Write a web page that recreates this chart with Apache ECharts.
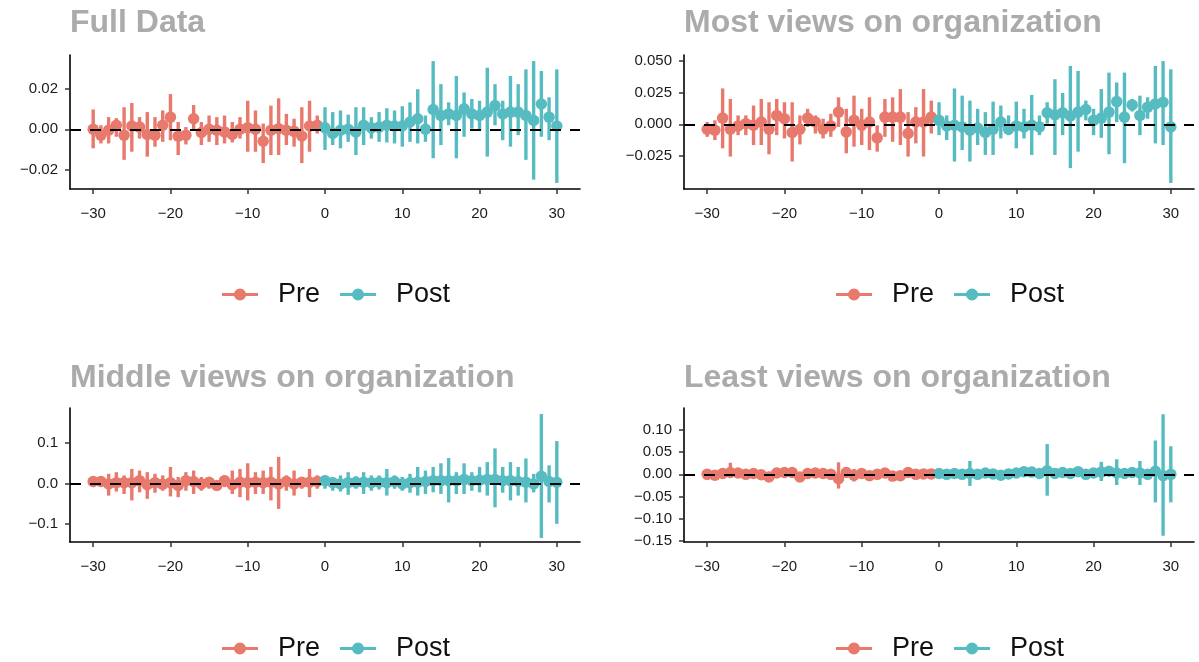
<!DOCTYPE html>
<html>
<head>
<meta charset="utf-8">
<script src="https://cdn.jsdelivr.net/npm/echarts@6/dist/echarts.min.js"></script>
<style>
  html, body { margin: 0; padding: 0; background: #fff; }
  #chart { width: 1199px; height: 662px; }
</style>
</head>
<body>
<div id="chart"></div>
<script>
// Event-study style panels: point estimates with CI bars, pre vs post.
const preX = [-30,-29,-28,-27,-26,-25,-24,-23,-22,-21,-20,-19,-18,-17,-16,-15,-14,-13,-12,-11,-10,-9,-8,-7,-6,-5,-4,-3,-2,-1]
const postX = [0,1,2,3,4,5,6,7,8,9,10,11,12,13,14,15,16,17,18,19,20,21,22,23,24,25,26,27,28,29,30]
const xTicks = [-30, -20, -10, 0, 10, 20, 30]

// Panel 1: Full Data
const fullPreEst = [0,-0.0029,-0.0005,0.002,-0.0029,0.0016,0.0011,-0.0026,-0.0029,0.002,0.006,-0.0034,-0.0029,0.0052,-0.0016,0,-0.0005,-0.0013,-0.0026,0,0.0007,0,-0.0059,-0.0005,0.0003,-0.0005,-0.001,-0.0033,0.0016,0.002]
const fullPreHi = [0.0098,0.002,0.006,0.0055,0.0109,0.013,0.006,0.0085,0.006,0.0093,0.0174,0.0036,0.0011,0.012,0.0036,0.0068,0.006,0.0068,0.0036,0.006,0.0141,0.0093,0.0028,0.0117,0.0153,0.0076,0.0052,0.0109,0.0141,0.0068]
const fullPreLo = [-0.0094,-0.007,-0.007,-0.0037,-0.0151,-0.0111,-0.0046,-0.0135,-0.0086,-0.0062,-0.0054,-0.0127,-0.0075,-0.0005,-0.0078,-0.0062,-0.0078,-0.007,-0.0065,-0.0046,-0.0111,-0.0111,-0.0167,-0.0127,-0.0127,-0.0078,-0.0086,-0.0167,-0.0111,-0.0021]
const fullPostEst = [0.0007,-0.0021,-0.0005,0,-0.0013,0.002,0.0007,0.0011,0.002,0.0016,0.0016,0.0036,0.0052,0,0.0098,0.0068,0.0076,0.0068,0.0101,0.0076,0.0068,0.0085,0.0117,0.0076,0.0085,0.0085,0.0068,0.0044,0.0125,0.006,0.0016]
const fullPostHi = [0.0109,0.0085,0.0093,0.0072,0.0109,0.0109,0.006,0.0085,0.0104,0.0093,0.0114,0.0133,0.0198,0.0068,0.0337,0.0223,0.0133,0.0263,0.0182,0.015,0.0141,0.0304,0.0223,0.0141,0.0263,0.0223,0.0296,0.0337,0.0288,0.0158,0.0296]
const fullPostLo = [-0.0102,-0.0078,-0.0094,-0.0062,-0.0127,-0.0078,-0.0046,-0.0062,-0.0065,-0.007,-0.0086,-0.0062,-0.007,-0.0062,-0.0143,-0.0078,0.002,-0.0143,-0.0037,0.0003,-0.0005,-0.0135,0.002,-0.0054,-0.0086,-0.0029,-0.0151,-0.0249,-0.0037,-0.0054,-0.0265]

// Panel 2: Most views on organization
const mostPreEst = [-0.0039,-0.0047,0.0049,-0.0039,-0.0013,0.0005,-0.0008,0.0018,-0.0039,0.007,0.0044,-0.0065,-0.0039,0.0049,0.0018,-0.0039,-0.0013,0.0096,-0.006,0.0031,-0.0008,0.0018,-0.0107,0.0057,0.0057,0.0057,-0.0073,0.0018,0.0018,0.0057]
const mostPreHi = [0.0018,0.0031,0.0283,0.02,0.007,0.007,0.0148,0.02,0.0174,0.02,0.0174,0.0174,0.007,0.0122,0.007,0.0044,0.0083,0.0213,0.0122,0.0226,0.0122,0.0213,-0.0008,0.02,0.0213,0.0278,0.0096,0.0135,0.0278,0.0187]
const mostPreLo = [-0.0099,-0.0125,-0.019,-0.0255,-0.0086,-0.0086,-0.0164,-0.0164,-0.0237,-0.0086,-0.0112,-0.0294,-0.0159,-0.0021,-0.0073,-0.0112,-0.0099,-0.0021,-0.0229,-0.0177,-0.0164,-0.0203,-0.0216,-0.0099,-0.0138,-0.0164,-0.0255,-0.0151,-0.0255,-0.0073]
const mostPostEst = [0.0031,-0.0013,-0.0008,-0.0021,-0.0047,-0.0029,-0.0065,-0.0039,0.0018,-0.0039,-0.0013,-0.0021,-0.0008,-0.0021,0.0091,0.0075,0.0091,0.0065,0.0096,0.0117,0.0031,0.0049,0.0096,0.0179,0.0057,0.0153,0.007,0.0135,0.0161,0.0174,-0.0021]
const mostPostHi = [0.0174,0.007,0.0283,0.0226,0.0187,0.0122,0.0096,0.0179,0.0148,0.007,0.0179,0.0122,0.0231,0.007,0.0174,0.0356,0.0247,0.046,0.0421,0.0187,0.0122,0.0278,0.0408,0.033,0.0408,0.02,0.0226,0.0213,0.046,0.0499,0.0434]
const mostPostLo = [-0.0086,-0.0125,-0.0294,-0.0203,-0.0294,-0.0164,-0.0242,-0.0242,-0.0112,-0.0086,-0.019,-0.0112,-0.0242,-0.0086,0.0005,-0.0242,-0.0086,-0.0346,-0.0216,0.0031,-0.0086,-0.0107,-0.0237,0.0018,-0.0307,0.0101,-0.0086,0.0044,-0.0151,-0.0164,-0.0463]

// Panel 3: Middle views on organization
const midPreEst = [0.005,0.005,-0.001,0.002,0.002,0.002,0.007,-0.003,0.002,-0.002,0.002,-0.005,0.007,0.005,-0.001,0.003,-0.005,0.007,-0.003,0.003,0.002,0.003,0.002,0.003,-0.001,0.005,-0.001,0.003,0.003,0.005]
const midPreHi = [0.016,0.013,0.024,0.028,0.02,0.036,0.032,0.028,0.024,0.02,0.041,0.016,0.028,0.032,0.016,0.016,0.007,0.02,0.032,0.036,0.05,0.028,0.032,0.041,0.066,0.02,0.032,0.016,0.036,0.02]
const midPreLo = [-0.009,-0.005,-0.03,-0.02,-0.026,-0.042,-0.022,-0.038,-0.023,-0.018,-0.032,-0.034,-0.018,-0.026,-0.018,-0.013,-0.018,-0.009,-0.026,-0.034,-0.042,-0.026,-0.026,-0.042,-0.063,-0.018,-0.03,-0.013,-0.034,-0.013]
const midPostEst = [0.007,0.002,-0.001,0.002,0.003,0.003,0.002,0.003,0.002,0.005,-0.001,0.002,0.003,0.005,0.007,0.007,0.007,0.007,0.01,0.007,0.008,0.01,0.01,0.007,0.007,0.005,0.003,-0.001,0.018,0.005,0.003]
const midPostHi = [0.02,0.016,0.02,0.028,0.018,0.028,0.02,0.02,0.036,0.02,0.016,0.024,0.041,0.032,0.041,0.05,0.063,0.028,0.05,0.028,0.041,0.053,0.087,0.041,0.053,0.041,0.062,0.024,0.172,0.045,0.105]
const midPostLo = [-0.013,-0.018,-0.02,-0.028,-0.013,-0.026,-0.018,-0.015,-0.03,-0.013,-0.018,-0.023,-0.03,-0.026,-0.022,-0.026,-0.047,-0.026,-0.026,-0.018,-0.022,-0.03,-0.059,-0.023,-0.042,-0.03,-0.047,-0.022,-0.135,-0.047,-0.1]

// Panel 4: Least views on organization
const leastPreEst = [0,-0.002,0.002,0.004,0.003,0,0.002,-0.001,-0.006,0.003,0.004,0.004,-0.006,0.002,0.003,0.002,0,-0.01,0.004,-0.002,0.002,-0.003,0,0.003,-0.004,-0.003,0.004,0,0.001,0.001]
const leastPreHi = [0.006,0.008,0.01,0.026,0.012,0.012,0.01,0.008,0.006,0.012,0.014,0.012,0.004,0.012,0.01,0.014,0.01,0.027,0.016,0.012,0.01,0.006,0.008,0.01,0.006,0.006,0.012,0.008,0.008,0.008]
const leastPreLo = [-0.006,-0.012,-0.006,-0.008,-0.006,-0.01,-0.008,-0.01,-0.016,-0.006,-0.006,-0.005,-0.014,-0.008,-0.005,-0.008,-0.01,-0.032,-0.006,-0.016,-0.006,-0.012,-0.008,-0.006,-0.014,-0.012,-0.004,-0.008,-0.006,-0.005]
const leastPostEst = [0.002,0,0.002,0,0.002,0,0.003,0.001,-0.002,0.001,0.003,0.006,0.005,0.002,0.008,0.002,0.004,0.002,0.006,0,0.003,0.005,0.007,0.003,0.002,0.004,0.003,0,0.007,-0.003,0]
const leastPostHi = [0.012,0.01,0.01,0.008,0.03,0.008,0.012,0.008,0.008,0.012,0.01,0.014,0.012,0.01,0.068,0.01,0.012,0.012,0.014,0.008,0.012,0.028,0.016,0.034,0.012,0.014,0.03,0.01,0.076,0.135,0.063]
const leastPostLo = [-0.01,-0.008,-0.006,-0.008,-0.026,-0.008,-0.006,-0.006,-0.01,-0.008,-0.006,-0.004,-0.002,-0.008,-0.048,-0.006,-0.005,-0.008,-0.004,-0.008,-0.006,-0.015,-0.002,-0.024,-0.008,-0.006,-0.024,-0.01,-0.063,-0.138,-0.063]

const PRE_COLOR = '#E8796D'
const POST_COLOR = '#57BCC1'

const panels = [
  { title: 'Full Data', left: 70, top: 55, yMin: -0.0295, yMax: 0.0367, yTicks: [-0.02, 0, 0.02], dec: 2,
    pre: [fullPreEst, fullPreLo, fullPreHi], post: [fullPostEst, fullPostLo, fullPostHi] },
  { title: 'Most views on organization', left: 684, top: 55, yMin: -0.0511, yMax: 0.0547, yTicks: [-0.025, 0, 0.025, 0.05], dec: 3,
    pre: [mostPreEst, mostPreLo, mostPreHi], post: [mostPostEst, mostPostLo, mostPostHi] },
  { title: 'Middle views on organization', left: 70, top: 408, yMin: -0.145, yMax: 0.187, yTicks: [-0.1, 0, 0.1], dec: 1,
    pre: [midPreEst, midPreLo, midPreHi], post: [midPostEst, midPostLo, midPostHi] },
  { title: 'Least views on organization', left: 684, top: 408, yMin: -0.152, yMax: 0.149, yTicks: [-0.15, -0.1, -0.05, 0, 0.05, 0.1], dec: 2,
    pre: [leastPreEst, leastPreLo, leastPreHi], post: [leastPostEst, leastPostLo, leastPostHi] },
]

const fmt = (v, dec) => {
  const s = Math.abs(v).toFixed(dec)
  return (v < -1e-9 ? '\u2212' : '') + s
}

const legendIcon = 'path://M0,4.5L36,4.5L36,7.5L0,7.5Z M24,6A6,6 0 1 1 12,6A6,6 0 1 1 24,6Z'

const errorBar = (color) => (params, api) => {
  const x = api.value(0)
  const p1 = api.coord([x, api.value(1)])
  const p2 = api.coord([x, api.value(2)])
  return {
    type: 'line',
    shape: { x1: p1[0], y1: p1[1], x2: p2[0], y2: p2[1] },
    style: { stroke: color, lineWidth: 3.4 },
  }
}

const grid = [], xAxis = [], yAxis = [], series = [], title = [], legend = []

panels.forEach((p, i) => {
  grid.push({ left: p.left, top: p.top, width: 510, height: 134 })
  xAxis.push({
    gridIndex: i, type: 'value', min: -33, max: 33,
    axisLine: { onZero: false, lineStyle: { color: '#000', width: 1.6 } },
    axisTick: { length: 5, lineStyle: { color: '#333', width: 1.5 }, customValues: xTicks },
    axisLabel: { customValues: xTicks, color: '#1a1a1a', fontSize: 15, fontFamily: 'Liberation Sans', margin: 17,
      formatter: (v) => fmt(v, 0) },
    splitLine: { show: false },
  })
  yAxis.push({
    gridIndex: i, type: 'value', min: p.yMin, max: p.yMax,
    axisLine: { show: true, onZero: false, lineStyle: { color: '#000', width: 1.6 } },
    axisTick: { show: true, length: 5, lineStyle: { color: '#333', width: 1.5 }, customValues: p.yTicks },
    axisLabel: { customValues: p.yTicks, color: '#1a1a1a', fontSize: 15, fontFamily: 'Liberation Sans', margin: 12,
      formatter: (v) => fmt(v, p.dec) },
    splitLine: { show: false },
  })
  title.push({
    text: p.title, left: p.left, top: i < 2 ? 7 : 362, padding: 0,
    textStyle: { color: '#ababab', fontSize: 32, fontWeight: 'bold', fontFamily: 'Liberation Sans' },
  })
  legend.push({
    data: [{ name: 'Pre', icon: legendIcon }, { name: 'Post', icon: legendIcon }],
    left: p.left + 152, top: i < 2 ? 281 : 635, padding: 0,
    itemWidth: 36, itemHeight: 12, itemGap: 20,
    textStyle: { fontSize: 27, color: '#111', fontFamily: 'Liberation Sans', padding: [0, 0, 0, 15] },
    selectedMode: false,
  })

  const groups = [['Pre', preX, p.pre, PRE_COLOR], ['Post', postX, p.post, POST_COLOR]]
  groups.forEach(([name, xs, arrs, color]) => {
    const [est, lo, hi] = arrs
    series.push({
      name, type: 'custom', xAxisIndex: i, yAxisIndex: i,
      renderItem: errorBar(color),
      itemStyle: { color },
      encode: { x: 0, y: [1, 2] },
      data: xs.map((x, k) => [x, lo[k], hi[k]]),
      z: 2, silent: true,
    })
    series.push({
      name, type: 'scatter', xAxisIndex: i, yAxisIndex: i,
      symbolSize: 11.5, itemStyle: { color, opacity: 1 },
      data: xs.map((x, k) => [x, est[k]]),
      z: 3, silent: true,
    })
  })
  // dashed reference at zero, drawn above the points
  series.push({
    type: 'line', xAxisIndex: i, yAxisIndex: i, data: [], z: 5, silent: true,
    markLine: {
      symbol: 'none', silent: true, label: { show: false },
      lineStyle: { color: '#000', type: [11, 9], width: 2.2 },
      data: [{ yAxis: 0 }],
    },
  })
})

const chart = echarts.init(document.getElementById('chart'), null, { renderer: 'canvas' })
chart.setOption({
  animation: false,
  backgroundColor: '#fff',
  title, legend, grid, xAxis, yAxis, series,
})
</script>
</body>
</html>
